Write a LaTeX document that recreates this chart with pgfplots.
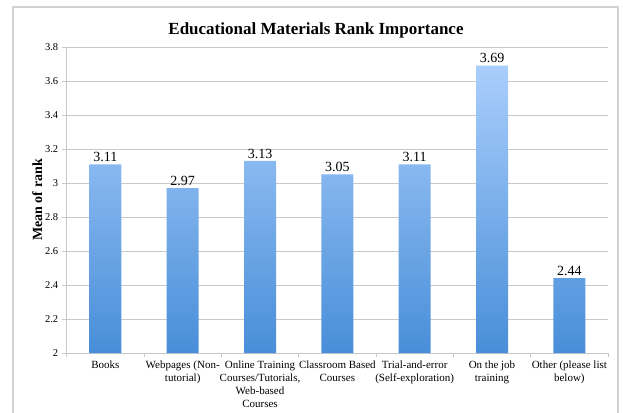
\documentclass[border=0pt]{standalone}
\usepackage{pgfplots}
\pgfplotsset{compat=1.18}
\usepackage{fontspec}
\setmainfont{Liberation Serif}
\definecolor{gridgray}{RGB}{200,200,200}
\definecolor{bartop}{RGB}{170,206,252}
\definecolor{barbot}{RGB}{72,142,216}
\begin{document}
\begin{tikzpicture}
\useasboundingbox (0pt,0pt) rectangle (623pt,412pt);
\draw[gray!35, line width=1.2pt] (13pt,-5pt) -- (13pt,405pt) -- (618pt,405pt) -- (618pt,-5pt);
\node[font=\fontsize{17}{20}\selectfont\bfseries] at (316pt,382pt) {Educational Materials Rank Importance};
\begin{axis}[
  at={(66.7pt,59pt)}, anchor=south west,
  scale only axis, width=541.3pt, height=306pt,
  xmin=-0.5, xmax=6.5, ymin=2, ymax=3.8,
  ytick={2,2.2,...,3.8},
  yticklabels={2,2.2,2.4,2.6,2.8,3,3.2,3.4,3.6,3.8},
  xtick={0,...,6},
  xticklabels={Books, Webpages (Non-\\tutorial), {Online Training\\Courses/Tutorials,\\Web-based\\Courses}, Classroom Based\\Courses, Trial-and-error\\(Self-exploration), On the job\\training, Other (please list\\below)},
  xticklabel style={align=center, font=\fontsize{11}{13}\selectfont, anchor=north, yshift=1pt},
  yticklabel style={font=\fontsize{10.5}{12}\selectfont},
  major x tick style={draw=none},
  minor xtick={-0.5,0.5,...,6.5},
  minor tick length=4pt,
  major tick length=5pt,
  tick align=outside,
  tick style={gridgray, line width=0.8pt},
  axis lines*=left,
  axis line style={gridgray, line width=0.8pt},
  ymajorgrids, grid style={gridgray, line width=0.9pt},
  ylabel={\bfseries Mean of rank},
  ylabel style={font=\fontsize{14}{16}\selectfont, yshift=-4pt},
  ybar, bar width=32pt,
  nodes near coords,
  nodes near coords style={font=\fontsize{14}{16}\selectfont, /pgf/number format/fixed, /pgf/number format/precision=2, /pgf/number format/fixed zerofill, /pgf/number format/assume math mode=true, yshift=-1pt},
  /pgf/number format/assume math mode=true,
]
\addplot[draw=none, top color=bartop, bottom color=barbot] coordinates {(0,3.11) (1,2.97) (2,3.13) (3,3.05) (4,3.11) (5,3.69) (6,2.44)};
\end{axis}
\end{tikzpicture}
\end{document}
